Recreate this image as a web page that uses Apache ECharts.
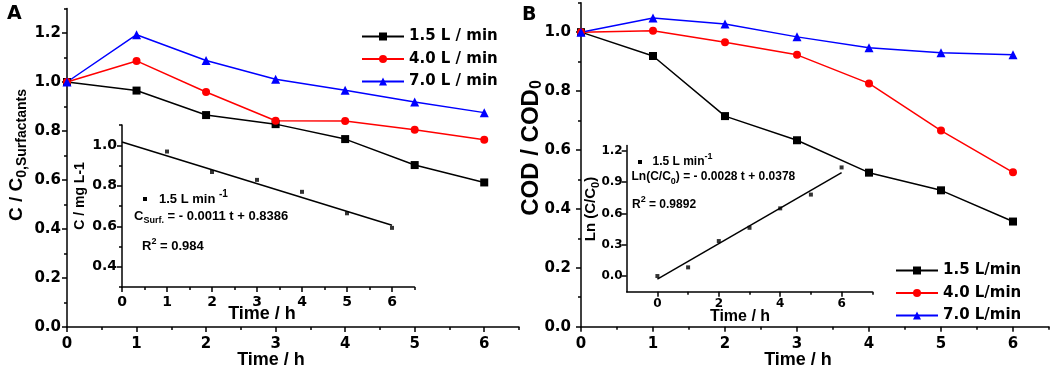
<!DOCTYPE html>
<html>
<head>
<meta charset="utf-8">
<script src="https://cdn.jsdelivr.net/npm/echarts@6/dist/echarts.min.js"></script>
<style>
  html, body { margin: 0; padding: 0; background: #fff; }
  #chart { width: 1052px; height: 373px; }
</style>
</head>
<body>
<div id="chart"></div>
<script>
// sampling times (h)
const hours = [0, 1, 2, 3, 4, 5, 6];

// panel A: C / C0 of surfactants
const surfA15 = [1.0, 0.965, 0.865, 0.828, 0.767, 0.661, 0.59];
const surfA40 = [1.0, 1.086, 0.959, 0.842, 0.841, 0.805, 0.764];
const surfA70 = [1.0, 1.193, 1.088, 1.011, 0.966, 0.918, 0.875];

// panel A inset: C (mg/L) at 1.5 L/min + linear fit
const insetAHours = [1, 2, 3, 4, 5, 6];
const insetAConc = [0.969, 0.868, 0.829, 0.77, 0.664, 0.592];
const insetAFitHours = [0, 6];
const insetAFit = [1.016, 0.605];

// panel B: COD / COD0
const codB15 = [1.0, 0.919, 0.715, 0.633, 0.523, 0.463, 0.357];
const codB40 = [1.0, 1.005, 0.966, 0.923, 0.826, 0.666, 0.524];
const codB70 = [1.0, 1.048, 1.028, 0.984, 0.947, 0.930, 0.923];

// panel B inset: Ln(C/C0) + linear fit
const insetBLn = [0.0, 0.083, 0.335, 0.462, 0.648, 0.78, 1.04];
const insetBFitHours = [0, 6];
const insetBFit = [-0.03, 0.99];

// tick labels
const mainHourTicks = [0, 1, 2, 3, 4, 5, 6];
const mainARatioTicks = [0, 0.2, 0.4, 0.6, 0.8, 1.0, 1.2];
const insetAConcTicks = [0.4, 0.6, 0.8, 1.0];
const mainBRatioTicks = [0, 0.2, 0.4, 0.6, 0.8, 1.0];
const insetBHourTicks = [0, 2, 4, 6];
const insetBLnTicks = [0, 0.3, 0.6, 0.9, 1.2];

const legendA = ['1.5 L / min', '4.0 L / min', '7.0 L / min'];
const legendB = ['1.5 L/min', '4.0 L/min', '7.0 L/min'];

const BLACK = '#000000', RED = '#ff0000', BLUE = '#0000ff';
const TICK_FONT = 'DejaVu Sans';
const TITLE_FONT = 'Liberation Sans, Arial, sans-serif';

// minor ticks halfway between majors
const between = (ticks, step, max) =>
  ticks.map(v => v + step / 2).filter(v => v <= max + 1e-9);

// grid boxes: main A, inset A, main B, inset B
const boxes = [
  { left: 67, top: 8.5, width: 452, height: 318.5 },
  { left: 122, top: 125, width: 292.5, height: 162 },
  { left: 581, top: 2.7, width: 468, height: 324 },
  { left: 626.7, top: 145.5, width: 245.6, height: 146.2 }
];
// same boxes again, used only for the minor tick axes
const grids = boxes.concat(boxes).map(b => Object.assign({ containLabel: false }, b));

// axis specs per box: [min, max, majors, minors, fontSize, margin, digits]
const xSpecs = [
  [0, 6.5, mainHourTicks, between(mainHourTicks, 1, 6.5), 15, 10, 0],
  [0, 6.5, mainHourTicks, between(mainHourTicks, 1, 6.5), 14, 8, 0],
  [0, 6.5, mainHourTicks, between(mainHourTicks, 1, 6.5), 15, 10, 0],
  [-1, 7, insetBHourTicks, [1, 3, 5, 7], 12, 6, 0]
];
const ySpecs = [
  [0, 1.3, mainARatioTicks, between(mainARatioTicks, 0.2, 1.3), 15, 6, 1],
  [0.3, 1.1, insetAConcTicks, [0.3, 0.5, 0.7, 0.9, 1.1], 14, 5, 1],
  [0, 1.1, mainBRatioTicks, between(mainBRatioTicks, 0.2, 1.1), 15, 10, 1],
  [-0.15, 1.25, insetBLnTicks, [], 12, 4, 1]
];

function makeAxes(specs) {
  const major = specs.map((s, i) => ({
    type: 'value', gridIndex: i, min: s[0], max: s[1],
    splitLine: { show: false },
    axisLine: { show: true, onZero: false, lineStyle: { color: BLACK, width: 1.5 } },
    axisTick: { show: true, inside: false, length: 5, customValues: s[2],
      lineStyle: { color: BLACK, width: 1.5 } },
    axisLabel: { show: true, customValues: s[2], margin: s[5], color: BLACK,
      fontFamily: TICK_FONT, fontWeight: 'bold', fontSize: s[4],
      formatter: v => Number(v).toFixed(s[6]) }
  }));
  const minor = specs.map((s, i) => ({
    type: 'value', gridIndex: i + 4, min: s[0], max: s[1],
    splitLine: { show: false },
    axisLine: { show: false, onZero: false },
    axisTick: { show: s[3].length > 0, inside: false, length: 3, customValues: s[3],
      lineStyle: { color: BLACK, width: 1.5 } },
    axisLabel: { show: false }
  }));
  return major.concat(minor);
}

const pairs = (xs, ys) => xs.map((x, i) => [x, ys[i]]);

function flowLine(name, axis, ys, color, symbol, size) {
  return {
    name, type: 'line', xAxisIndex: axis, yAxisIndex: axis,
    data: pairs(hours, ys), symbol, symbolSize: size,
    itemStyle: { color }, lineStyle: { color, width: 1.5 },
    emphasis: { disabled: true }
  };
}
function fitLine(name, axis, xs, ys) {
  return {
    name, type: 'line', xAxisIndex: axis, yAxisIndex: axis,
    data: pairs(xs, ys), symbol: 'none',
    lineStyle: { color: BLACK, width: 1.5 }, emphasis: { disabled: true }
  };
}
function points(name, axis, xs, ys) {
  return {
    name, type: 'scatter', xAxisIndex: axis, yAxisIndex: axis,
    data: pairs(xs, ys), symbol: 'rect', symbolSize: 4,
    itemStyle: { color: BLACK }, emphasis: { disabled: true }
  };
}

const legendText = { fontFamily: TICK_FONT, fontWeight: 'bold', fontSize: 15,
  color: BLACK, lineHeight: 15 };

function txt(x, y, text, size, extra, rotation) {
  return {
    type: 'text', x, y, rotation: rotation || 0,
    style: Object.assign({ text, fill: BLACK, fontFamily: TITLE_FONT, fontWeight: 'bold',
      fontSize: size, align: 'left', verticalAlign: 'middle' }, extra || {})
  };
}
// rotated title, block centred on (x, y)
function richTitle(x, y, text, rich) {
  return {
    type: 'text', x, y, rotation: Math.PI / 2,
    style: { text, rich, fill: BLACK, align: 'center', verticalAlign: 'middle',
      fontFamily: TITLE_FONT, fontWeight: 'bold' }
  };
}
// horizontal note; y is the centre of the main-size text
// sup: small tokens raised (main tokens at bottom), else lowered (main at top)
function note(x, y, text, rich, mainLH, blockLH, sup) {
  const top = sup ? y - (blockLH - mainLH / 2) : y - mainLH / 2;
  return {
    type: 'text', x, y: top,
    style: { text, rich, fill: BLACK, align: 'left', verticalAlign: 'top',
      fontFamily: TITLE_FONT, fontWeight: 'bold' }
  };
}
const tok = (size, lh, va) => ({ fontFamily: TITLE_FONT, fontWeight: 'bold', fontSize: size,
  lineHeight: lh, verticalAlign: va, fill: BLACK, color: BLACK });

const chart = echarts.init(document.getElementById('chart'));
chart.setOption({
  animation: false,
  backgroundColor: '#ffffff',
  grid: grids,
  xAxis: makeAxes(xSpecs),
  yAxis: makeAxes(ySpecs),
  legend: [
    { data: legendA, orient: 'vertical', left: 356, top: 24, itemWidth: 42, itemHeight: 10,
      itemGap: 7.5, selectedMode: false, textStyle: legendText },
    { data: legendB, orient: 'vertical', left: 890, top: 258, itemWidth: 42, itemHeight: 10,
      itemGap: 7.5, selectedMode: false, textStyle: legendText }
  ],
  series: [
    flowLine(legendA[0], 0, surfA15, BLACK, 'rect', 8),
    flowLine(legendA[1], 0, surfA40, RED, 'circle', 8),
    flowLine(legendA[2], 0, surfA70, BLUE, 'triangle', 9),
    fitLine('fitA', 1, insetAFitHours, insetAFit),
    points('pointsA', 1, insetAHours, insetAConc),
    flowLine(legendB[0], 2, codB15, BLACK, 'rect', 8),
    flowLine(legendB[1], 2, codB40, RED, 'circle', 8),
    flowLine(legendB[2], 2, codB70, BLUE, 'triangle', 9),
    fitLine('fitB', 3, insetBFitHours, insetBFit),
    points('pointsB', 3, hours, insetBLn)
  ],
  graphic: [
    txt(7, 14, 'A', 19, { fontFamily: TICK_FONT }),
    txt(522, 15, 'B', 19, { fontFamily: TICK_FONT }),
    // x titles
    txt(271, 360, 'Time / h', 18, { align: 'center' }),
    txt(798, 360, 'Time / h', 18, { align: 'center' }),
    txt(262, 314, 'Time / h', 18, { align: 'center' }),
    txt(740, 316.5, 'Time / h', 16, { align: 'center' }),
    // y titles
    richTitle(22, 155, '{m|C / C}{s|0,Surfactants}',
      { m: tok(19, 20, 'top'), s: tok(14, 30, 'middle') }),
    richTitle(537, 148, '{m|COD / COD}{s|0}',
      { m: tok(24, 24, 'top'), s: tok(16, 36, 'middle') }),
    txt(80, 196, 'C / mg L-1', 14, { align: 'center' }, Math.PI / 2),
    richTitle(596, 209, '{m|Ln (C/C}{s|0}{m|)}',
      { m: tok(15, 16, 'top'), s: tok(11, 26, 'middle') }),
    // inset A notes
    { type: 'rect', shape: { x: 143, y: 197, width: 4, height: 4 }, style: { fill: BLACK } },
    note(159, 199, '{m|1.5 L min }{p|-1}',
      { m: tok(13, 14, 'bottom'), p: tok(10, 24, 'middle') }, 14, 24, true),
    note(134, 216.5, '{m|C}{s|Surf.}{m| = - 0.0011 t + 0.8386}',
      { m: tok(13, 14, 'top'), s: tok(9, 22, 'middle') }, 14, 22, false),
    note(142, 245.5, '{m|R}{p|2}{m| = 0.984}',
      { m: tok(13, 14, 'bottom'), p: tok(9, 22, 'middle') }, 14, 22, true),
    // inset B notes
    { type: 'rect', shape: { x: 638, y: 160, width: 4, height: 4 }, style: { fill: BLACK } },
    note(652.5, 161.5, '{m|1.5 L min}{p|-1}',
      { m: tok(12, 13, 'bottom'), p: tok(9, 22, 'middle') }, 13, 22, true),
    note(631.5, 177.5, '{m|Ln(C/C}{s|0}{m|) = - 0.0028 t + 0.0378}',
      { m: tok(12, 13, 'top'), s: tok(9, 21, 'middle') }, 13, 21, false),
    note(632, 204, '{m|R}{p|2}{m| = 0.9892}',
      { m: tok(12, 13, 'bottom'), p: tok(9, 21, 'middle') }, 13, 21, true)
  ]
});
</script>
</body>
</html>
